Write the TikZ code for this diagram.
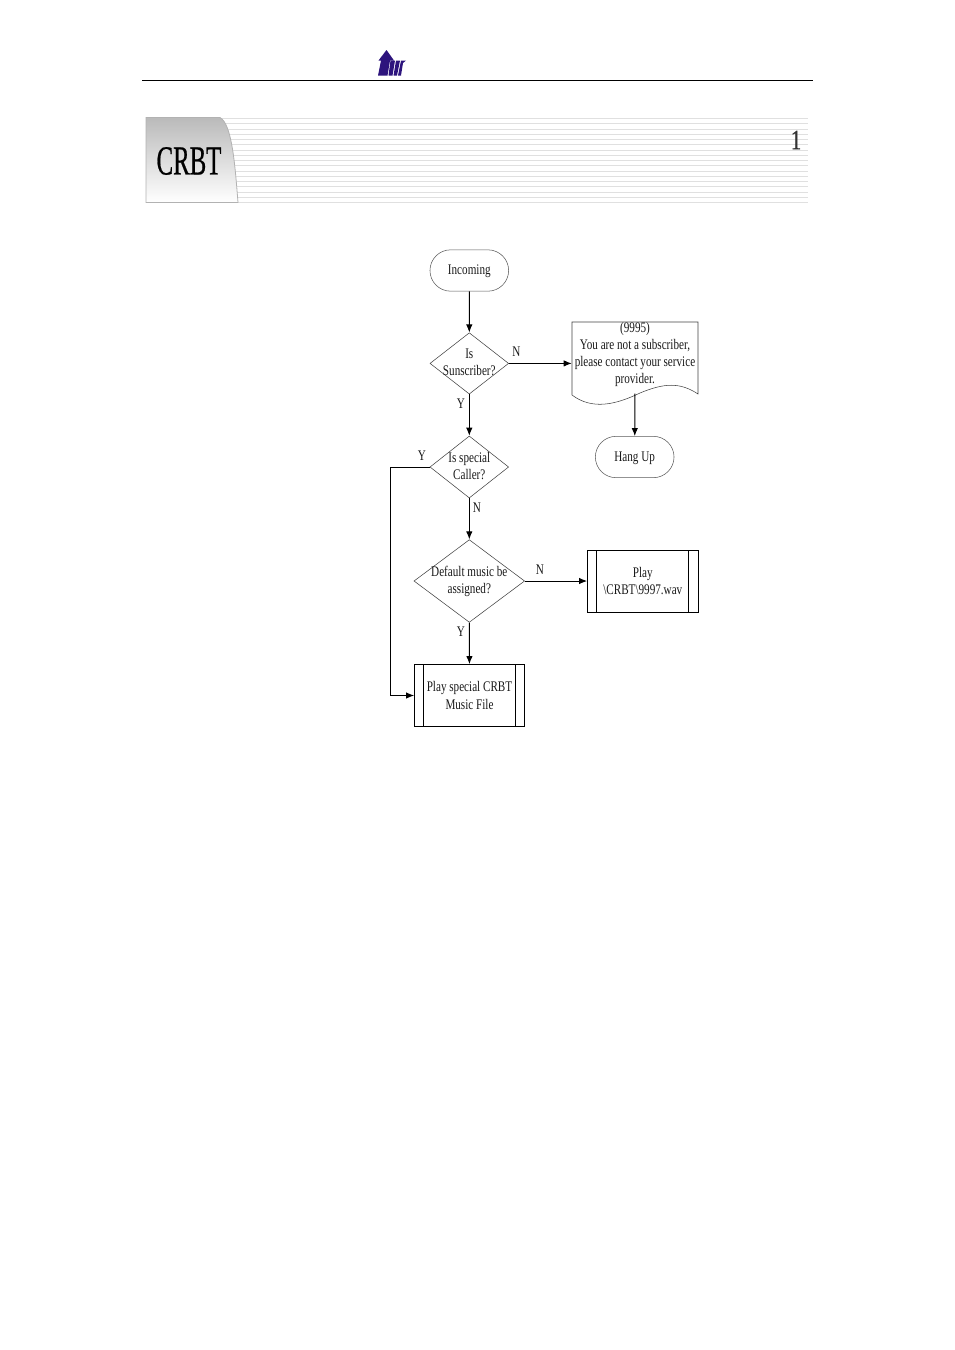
\documentclass[tikz,border=0pt]{standalone}
\usepackage{fontspec}
\setmainfont[FakeStretch=0.76]{Liberation Serif}
\newfontfamily\titlefont[FakeStretch=0.75,FakeBold=0.6]{Liberation Serif}
\usetikzlibrary{arrows.meta,positioning,shapes.geometric,shapes.misc}
\tikzset{>={Latex[length=6pt,width=4.8pt]}}
\definecolor{logoblue}{RGB}{45,20,125}
\tikzset{
  flowtext/.style={font=\fontsize{11pt}{12.9pt}\selectfont,align=center,text=black!90},
  terminal/.style={flowtext,draw=black!65,rounded rectangle,minimum width=59pt,minimum height=31pt,inner sep=0pt,text height=8.5pt,text depth=2pt},
  decision/.style={flowtext,draw=black!75,diamond,inner sep=0pt},
  process/.style={flowtext,draw=black,line width=0.55pt,rectangle,inner sep=0pt,
    path picture={
      \draw ([xshift=7pt]path picture bounding box.north west) -- ([xshift=7pt]path picture bounding box.south west);
      \draw ([xshift=-7pt]path picture bounding box.north east) -- ([xshift=-7pt]path picture bounding box.south east);
    }},
  answer/.style={flowtext,inner sep=0pt},
  connector/.style={->,line width=0.7pt},
  stripe/.style={draw=black!12,line width=0.75pt},
}
\newcommand{\diamondtext}[1]{\makebox[0pt]{\raisebox{-3pt}[0pt][0pt]{\begin{tabular}{@{}c@{}}#1\end{tabular}}}}
\begin{document}
\begin{tikzpicture}[x=0.75pt,y=-0.75pt]
\useasboundingbox (0,0) rectangle (954,1350);
% header
\coordinate (ruleleft) at (142,80.5);
\coordinate (ruleright) at (813,80.5);
\draw[line width=0.75pt] (ruleleft) -- (ruleright);
\fill[logoblue] (386.5,50) -- (394,60.5) -- (390,60.5) -- (387.5,75.5) -- (378,75.5) -- (381,60.5) -- (378.5,60.5) -- cycle;
\fill[logoblue] (390.5,60.5) -- (395,60.5) -- (392.5,75.5) -- (388.5,75.5) -- cycle;
\fill[logoblue] (396,60.5) -- (400,60.5) -- (397,75.5) -- (393.5,75.5) -- cycle;
\fill[logoblue] (401,60.5) -- (406,60.5) -- (403,63) -- (401,75.5) -- (398,75.5) -- cycle;
% title band
\foreach \y in {118.5,123.5,129.5,134.5,139.5,144.5,150.5,155.5,160.5,165.5,171.5,176.5,181.5,186.5,192.5,197.5,202.5}
  \draw[stripe] (222,\y) -- (808,\y);
\path[top color=black!27,bottom color=white,draw=black!30,line width=0.6pt]
  (146,117.5) -- (220,117.5) .. controls (232,124) and (235,165) .. (238,202.5) -- (146,202.5) -- cycle;
\node[font=\titlefont\fontsize{31pt}{31pt}\selectfont,xscale=0.8,inner sep=0pt] (crbt) at (189,161) {CRBT};
\node[font=\titlefont\fontsize{21pt}{21pt}\selectfont,text=black!80,inner sep=0pt] (pageno) at (796,140) {1};
% flow chart
\node[terminal] (incoming) at (469.3,270.5) {Incoming};
\node[decision,minimum width=59pt,minimum height=46pt] (sub) at (469.3,363.4) {\diamondtext{Is\\Sunscriber?}};
\node[decision,minimum width=59pt,minimum height=46.5pt] (special) at (469.3,467) {\diamondtext{Is special\\Caller?}};
\node[decision,minimum width=83pt,minimum height=62pt] (default) at (469.3,581) {\diamondtext{Default music be\\assigned?}};
\node[process,minimum width=82.5pt,minimum height=46.5pt] (playspecial) at (469.5,695.5) {Play special CRBT\\Music File};
\node[process,minimum width=83pt,minimum height=46.5pt] (playdefault) at (642.8,581) {Play\\\textbackslash CRBT\textbackslash 9997.wav};
\node[flowtext,minimum width=94.5pt,minimum height=45pt,inner sep=0pt] (notice) at (635,363.4)
  {\raisebox{3.9pt}[0pt][0pt]{\begin{tabular}{@{}c@{}}(9995)\\You are not a subscriber,\\please contact your service\\provider.\end{tabular}}};
\node[terminal] (hangup) at (634.7,457) {Hang Up};
\draw[draw=black!75,line width=0.4pt] (572,395) -- (572,322) -- (698,322) -- (698,394)
  .. controls (680,382) and (664,383) .. (640,393) .. controls (615,405) and (592,410) .. (572,395);
% connectors
\coordinate (bend) at (390.5,467);
\draw[connector] (incoming) -- (sub);
\draw[connector] (sub) -- (special);
\draw[connector] (sub) -- (notice);
\draw[connector] (notice) -- (hangup);
\draw[connector] (special) -- (default);
\draw[connector] (default) -- (playspecial);
\draw[connector] (default) -- (playdefault);
\draw[connector] (special) -- (bend) |- (playspecial);
% answers
\node[answer] (subno) at (516.5,352) {N};
\node[answer] (subyes) at (461,404) {Y};
\node[answer] (specialyes) at (422,456) {Y};
\node[answer] (specialno) at (477,508) {N};
\node[answer] (defaultno) at (540,570) {N};
\node[answer] (defaultyes) at (461,632) {Y};
\end{tikzpicture}
\end{document}
